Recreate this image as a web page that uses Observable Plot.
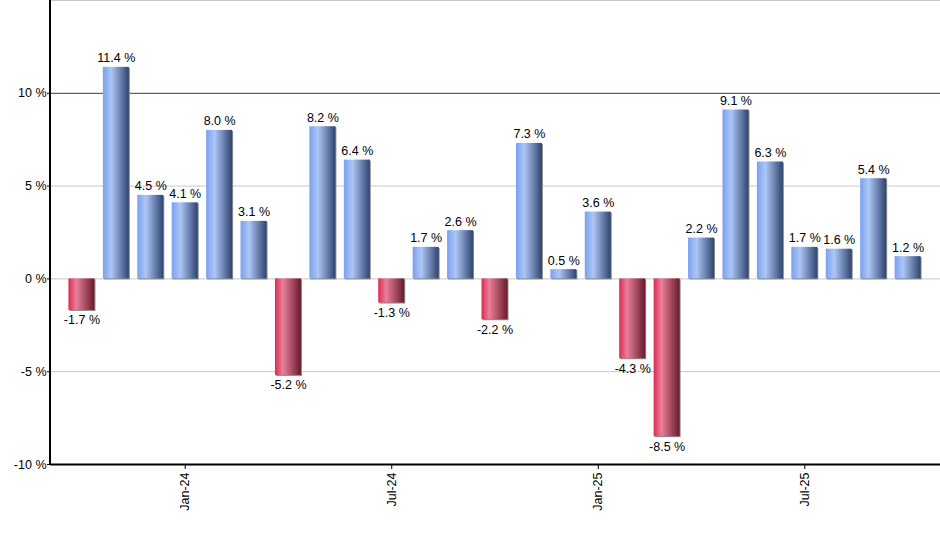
<!DOCTYPE html>
<html>
<head>
<meta charset="utf-8">
<script src="https://cdn.jsdelivr.net/npm/d3@7"></script>
<script src="https://cdn.jsdelivr.net/npm/@observablehq/plot@0.6"></script>
<style>
  html, body { margin: 0; padding: 0; background: #fff; }
  #chart svg { display: block; }
</style>
</head>
<body>
<div id="chart"></div>
<script>
const months = ["Oct-23","Nov-23","Dec-23","Jan-24","Feb-24","Mar-24","Apr-24","May-24","Jun-24","Jul-24","Aug-24","Sep-24","Oct-24","Nov-24","Dec-24","Jan-25","Feb-25","Mar-25","Apr-25","May-25","Jun-25","Jul-25","Aug-25","Sep-25","Oct-25"];
const returns = [-1.7, 11.4, 4.5, 4.1, 8.0, 3.1, -5.2, 8.2, 6.4, -1.3, 1.7, 2.6, -2.2, 7.3, 0.5, 3.6, -4.3, -8.5, 2.2, 9.1, 6.3, 1.7, 1.6, 5.4, 1.2];
const xTicks = ["Jan-24","Jul-24","Jan-25","Jul-25"];
const yTicks = [-10, -5, 0, 5, 10];
const grayGrid = [-5, 0, 5, 15];
const greenGrid = [10];

const data = months.map((m, i) => ({month: m, v: returns[i]}));
const pos = data.filter(d => d.v >= 0);
const neg = data.filter(d => d.v < 0);
const fmt = v => v.toFixed(1) + " %";

const plot = Plot.plot({
  width: 940,
  height: 550,
  marginTop: 0,
  marginBottom: 86,
  marginLeft: 50,
  marginRight: 0,
  style: {fontFamily: "'Liberation Sans', Arial, sans-serif", fontSize: "12px", color: "#000", background: "#fff"},
  x: {domain: months, padding: 0.245, round: false, insetLeft: 10, insetRight: 11, label: null},
  y: {domain: [-10, 15], label: null},
  marks: [
    Plot.ruleY(grayGrid, {stroke: "#c8c8c8", strokeWidth: 1}),
    Plot.ruleY(greenGrid, {stroke: "#006400", strokeWidth: 1}),
    Plot.barY(data, {x: "month", y: "v", fill: "#8a8a8a", dx: 1, dy: 1}),
    Plot.barY(pos, {x: "month", y: "v", fill: "url(#gradBlue)"}),
    Plot.barY(neg, {x: "month", y: "v", fill: "url(#gradRed)"}),
    Plot.text(pos, {x: "month", y: "v", text: d => fmt(d.v), lineAnchor: "bottom", dy: -5, fill: "#000", fontSize: 12.5}),
    Plot.text(neg, {x: "month", y: "v", text: d => fmt(d.v), lineAnchor: "top", dy: 5, fill: "#000", fontSize: 12.5}),
    Plot.ruleY([-10], {stroke: "#000", strokeWidth: 2}),
    Plot.axisY({ticks: yTicks, tickFormat: d => d + " %", tickSize: 3, tickPadding: 1, fontSize: 12.5, label: null}),
    Plot.axisX({ticks: xTicks, tickRotate: -90, tickSize: 5, tickPadding: 3, fontSize: 12.5, label: null})
  ]
});

// gradients for the cylindrical bar shading
const svg = d3.select(plot);
const defs = svg.insert("defs", ":first-child");
const blue = defs.append("linearGradient").attr("id", "gradBlue").attr("x1", "0").attr("x2", "1").attr("y1", "0").attr("y2", "0");
[["0%", "#7aa0ee"], ["33%", "#adc6f6"], ["100%", "#2f446f"]].forEach(([o, c]) => blue.append("stop").attr("offset", o).attr("stop-color", c));
const red = defs.append("linearGradient").attr("id", "gradRed").attr("x1", "0").attr("x2", "1").attr("y1", "0").attr("y2", "0");
[["0%", "#dc2a50"], ["30%", "#e8809a"], ["100%", "#6a1a2c"]].forEach(([o, c]) => red.append("stop").attr("offset", o).attr("stop-color", c));

// left axis line along the frame
const ys = plot.scale("y");
svg.append("line")
  .attr("x1", 50).attr("x2", 50)
  .attr("y1", ys.range[0] + 1).attr("y2", ys.range[1])
  .attr("stroke", "#000").attr("stroke-width", 2);

document.getElementById("chart").appendChild(plot);
</script>
</body>
</html>
